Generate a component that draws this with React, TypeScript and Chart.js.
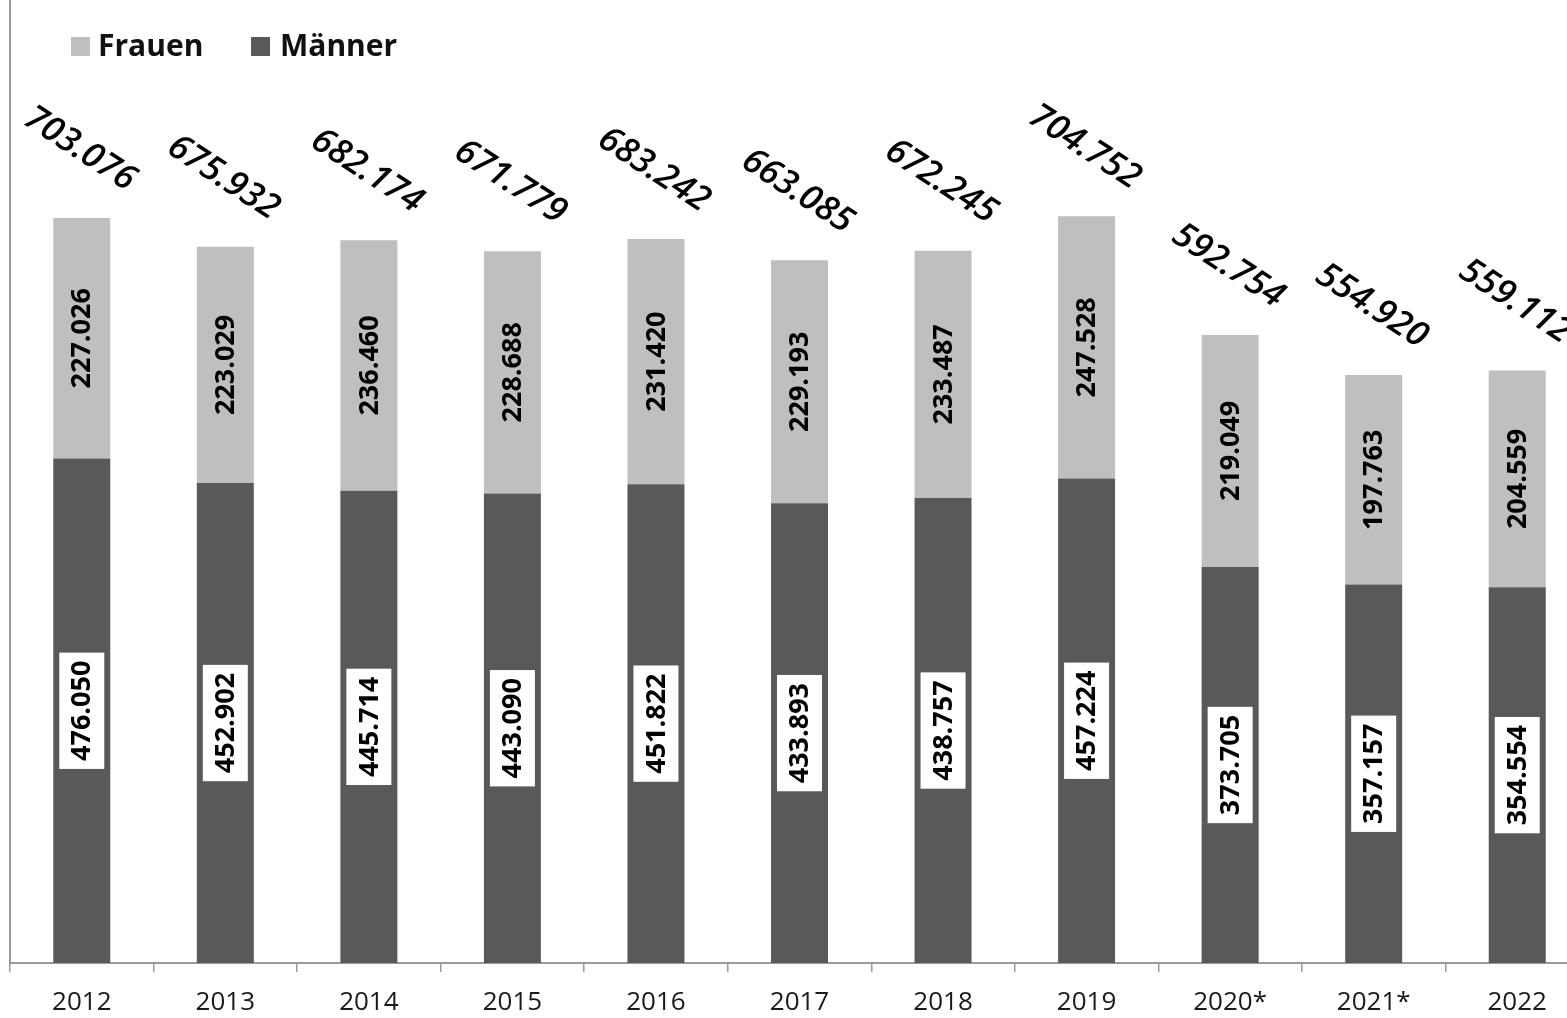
import React, { useEffect, useRef } from "react";
import { Chart, registerables } from "chart.js";

Chart.register(...registerables);

const years = ["2012", "2013", "2014", "2015", "2016", "2017", "2018", "2019", "2020*", "2021*", "2022"];
const maenner = [476050, 452902, 445714, 443090, 451822, 433893, 438757, 457224, 373705, 357157, 354554];
const frauen = [227026, 223029, 236460, 228688, 231420, 229193, 233487, 247528, 219049, 197763, 204559];
const totals = [703076, 675932, 682174, 671779, 683242, 663085, 672245, 704752, 592754, 554920, 559112];

const COLOR_FRAUEN = "#bfbfbf";
const COLOR_MAENNER = "#595959";
const AXIS_COLOR = "#9a9a9a";
const FONT = '"Open Sans", "DejaVu Sans", sans-serif';

function fmt(v: number): string {
  return String(v).replace(/\B(?=(\d{3})+(?!\d))/g, ".");
}

const labelPlugin = {
  id: "labelPlugin",
  afterDatasetsDraw(chart: any) {
    const ctx = chart.ctx;
    const mMeta = chart.getDatasetMeta(0);
    const fMeta = chart.getDatasetMeta(1);
    ctx.save();
    ctx.textAlign = "center";
    ctx.textBaseline = "middle";
    for (let i = 0; i < years.length; i++) {
      const mb = mMeta.data[i];
      const fb = fMeta.data[i];
      // Männer label with white box
      const mText = fmt(maenner[i]);
      ctx.font = `bold 27px ${FONT}`;
      const mw = ctx.measureText(mText).width;
      const my = (mb.y + mb.base) / 2;
      ctx.save();
      ctx.translate(mb.x, my);
      ctx.rotate(-Math.PI / 2);
      ctx.fillStyle = "#ffffff";
      const bh = mw + 16;
      ctx.fillRect(-bh / 2, -22.5, bh, 45);
      ctx.fillStyle = "#000000";
      ctx.fillText(mText, 0, 1);
      ctx.restore();
      // Frauen label
      const fText = fmt(frauen[i]);
      const fy = (fb.y + fb.base) / 2;
      ctx.save();
      ctx.translate(fb.x, fy);
      ctx.rotate(-Math.PI / 2);
      ctx.fillStyle = "#000000";
      ctx.fillText(fText, 0, 1);
      ctx.restore();
      // Total label
      const tText = fmt(totals[i]);
      ctx.save();
      ctx.font = `italic 600 35px ${FONT}`;
      ctx.translate(fb.x - 2, fb.y - 69);
      ctx.rotate((33 * Math.PI) / 180);
      ctx.fillStyle = "#000000";
      ctx.fillText(tText, 0, 0);
      ctx.restore();
    }
    // Legend
    ctx.textAlign = "left";
    ctx.font = `bold 30px ${FONT}`;
    ctx.fillStyle = COLOR_FRAUEN;
    ctx.fillRect(71, 37, 19, 19);
    ctx.fillStyle = "#111111";
    ctx.fillText("Frauen", 98, 47);
    ctx.fillStyle = COLOR_MAENNER;
    ctx.fillRect(251, 37, 19, 19);
    ctx.fillStyle = "#111111";
    ctx.fillText("Männer", 280, 47);
    ctx.restore();
  },
};

export default function App() {
  const ref = useRef<HTMLCanvasElement | null>(null);
  useEffect(() => {
    let chart: Chart | null = null;
    let cancelled = false;
    const make = () => {
      if (cancelled || !ref.current) return;
      chart = new Chart(ref.current, {
        type: "bar",
        data: {
          labels: years,
          datasets: [
            { label: "Männer", data: maenner, backgroundColor: COLOR_MAENNER, barPercentage: 0.397, categoryPercentage: 1 },
            { label: "Frauen", data: frauen, backgroundColor: COLOR_FRAUEN, barPercentage: 0.397, categoryPercentage: 1 },
          ],
        },
        options: {
          responsive: false,
          animation: false,
          layout: { padding: { top: 0, right: 0, left: 0, bottom: 0 } },
          plugins: { legend: { display: false }, tooltip: { enabled: false } },
          scales: {
            x: {
              stacked: true,
              grid: { drawOnChartArea: false, offset: true, tickLength: 9, color: AXIS_COLOR, lineWidth: 1.5 },
              border: { color: AXIS_COLOR, width: 2 },
              ticks: { color: "#1a1a1a", font: { family: FONT, size: 26 }, padding: 15, maxRotation: 0 },
              afterFit: (s: any) => { s.height = 55; },
            },
            y: {
              stacked: true,
              min: 0,
              max: 908800,
              grid: { display: false },
              border: { color: AXIS_COLOR, width: 2 },
              ticks: { display: false },
              afterFit: (s: any) => { s.width = 10; },
            },
          },
        },
        plugins: [labelPlugin],
      });
    };
    const fonts: any = (document as any).fonts;
    if (fonts && fonts.load) {
      Promise.all([
        fonts.load(`bold 27px ${FONT}`),
        fonts.load(`italic 600 35px ${FONT}`),
        fonts.load(`26px ${FONT}`),
      ]).then(make, make);
    } else {
      make();
    }
    return () => {
      cancelled = true;
      if (chart) chart.destroy();
    };
  }, []);
  return (
    <div style={{ position: "fixed", left: 0, top: 0, width: 1567, height: 1018, overflow: "hidden", background: "#fff" }}>
      <canvas ref={ref} width={1589} height={1018} style={{ display: "block" }} />
    </div>
  );
}
